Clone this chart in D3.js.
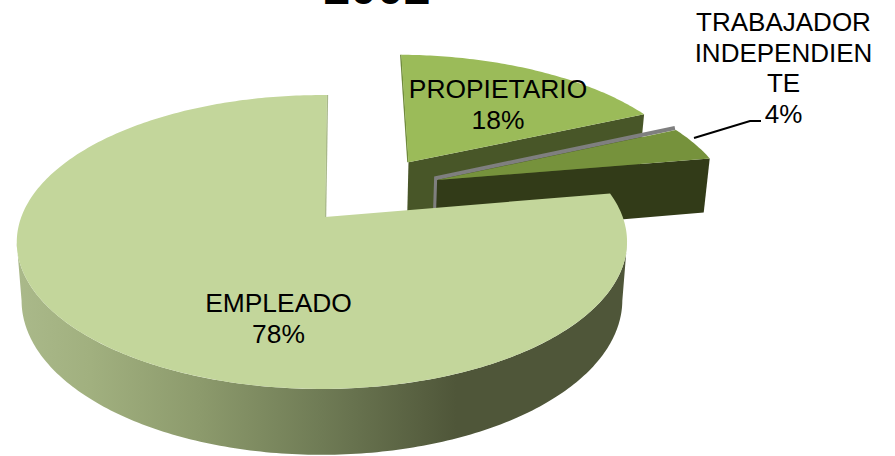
<!DOCTYPE html>
<html><head><meta charset="utf-8">
<style>html,body{margin:0;padding:0;background:#fff}svg{display:block}
text{font-family:"Liberation Sans",Arial,sans-serif;fill:#000}</style>
<script src="https://cdn.jsdelivr.net/npm/d3@7"></script></head><body>
<svg id="c" width="895" height="456"></svg>
<script>
const categories = ["EMPLEADO","PROPIETARIO","TRABAJADOR INDEPENDIENTE"];
const shares = [78,18,4];
const titleText = "2002";
const labelLines = [["EMPLEADO","78%"],["PROPIETARIO","18%"],["TRABAJADOR","INDEPENDIEN","TE","4%"]];
const topColors = ["#c3d69b","#9bbb59","#76923c"];
const wallColors = ["#4f5639","#485628","#323b18"];
const explode = [[-0.01,0],[0.297,-0.41],[0.39,-0.271]];

const svg=d3.select("#c");
const rot=80.2*Math.PI/180;
const arcs=d3.pie().sort(null).startAngle(rot).endAngle(rot+2*Math.PI)(shares);
const k=-0.17;
// perspective projection of the pie plane; level 0 = top face, level 1 = bottom face
function proj(u,v,level){
  const w=1+k*v;
  const c=level?296:300.7, a=level?103.5:105.8, b=level?274:217;
  return [325+c*u/w,(a*v+b)/w];
}
function pt(i,ang,r,level){
  const e=explode[i];
  const ex=(i===0&&r===0)?0:e[0];
  return proj(r*Math.sin(ang)+ex,-r*Math.cos(ang)+e[1],level);
}
function arcPts(i,a0,a1,level){
  const n=Math.max(2,Math.ceil(Math.abs(a1-a0)/0.015));
  return d3.range(n+1).map(j=>pt(i,a0+(a1-a0)*j/n,1,level));
}
const line=d3.line().curve(d3.curveLinear);
const closed=p=>line(p)+"Z";

const defs=svg.append("defs");
const g=defs.append("linearGradient").attr("id","wallGrad").attr("gradientUnits","userSpaceOnUse")
  .attr("x1",17).attr("x2",627).attr("y1",0).attr("y2",0);
[[0,"#aab98a"],[0.12,"#a1b07f"],[0.3,"#8c9a6c"],[0.5,"#6f7b55"],[0.72,"#4f5639"],[1,"#4f5639"]]
  .forEach(s=>g.append("stop").attr("offset",s[0]).attr("stop-color",s[1]));

function topFace(i){const d=arcs[i];return closed([pt(i,0,0,0),...arcPts(i,d.startAngle,d.endAngle,0)]);}
function radialFace(i,ang){return closed([pt(i,0,0,0),pt(i,ang,1,0),pt(i,ang,1,1),pt(i,0,0,1)]);}

// Propietario: cut face, left edge, top
svg.append("path").attr("d",radialFace(1,arcs[1].endAngle)).attr("fill",wallColors[1]);
svg.append("path").attr("d",line([pt(1,arcs[1].startAngle,1,0),pt(1,0,0,0)])).attr("transform","translate(-0.5,0)").attr("stroke","#6f8a3c").attr("stroke-width",1.5).attr("fill","none");
svg.append("path").attr("d",topFace(1)).attr("fill",topColors[1]);
// Trabajador: grey inner face, cut face, top
svg.append("path").attr("d",line([pt(2,arcs[2].startAngle,1,0),pt(2,0,0,0),pt(2,0,0,1)])).attr("transform","translate(-1,-2)")
  .attr("stroke","#7f7f7f").attr("stroke-width",4).attr("fill","none");
svg.append("path").attr("d",radialFace(2,arcs[2].endAngle)).attr("fill",wallColors[2]);
svg.append("path").attr("d",topFace(2)).attr("fill",topColors[2]);
// Empleado: outer wall, inner edge, top
const wa0=100*Math.PI/180, wa1=260*Math.PI/180;
svg.append("path").attr("d",closed([...arcPts(0,wa0,wa1,0),...arcPts(0,wa1,wa0,1)])).attr("fill","url(#wallGrad)");
svg.append("path").attr("d",line([pt(0,arcs[0].endAngle,1,0),pt(0,0,0,0)])).attr("transform","translate(0.5,0)").attr("stroke","#a9b88b").attr("stroke-width",1.5).attr("fill","none");
svg.append("path").attr("d",topFace(0)).attr("fill",topColors[0]);

// leader line
svg.append("path").attr("d",line([[694,138],[750,121],[761,121]])).attr("stroke","#000").attr("stroke-width",2).attr("fill","none");

// text
svg.append("text").attr("x",377).attr("y",4).attr("text-anchor","middle").attr("font-size",48).attr("font-weight","bold").text(titleText);
const labelPos=[{x:278.5,y:312},{x:498,y:98},{x:783.5,y:31}];
const lineGap=[31,31,30.7];
labelLines.forEach((ls,i)=>{
  const t=svg.append("text").attr("text-anchor","middle").attr("font-size",i==2?26:26.4);
  ls.forEach((s,j)=>t.append("tspan").attr("x",labelPos[i].x).attr("y",labelPos[i].y+j*lineGap[i]).text(s));
});
</script></body></html>
